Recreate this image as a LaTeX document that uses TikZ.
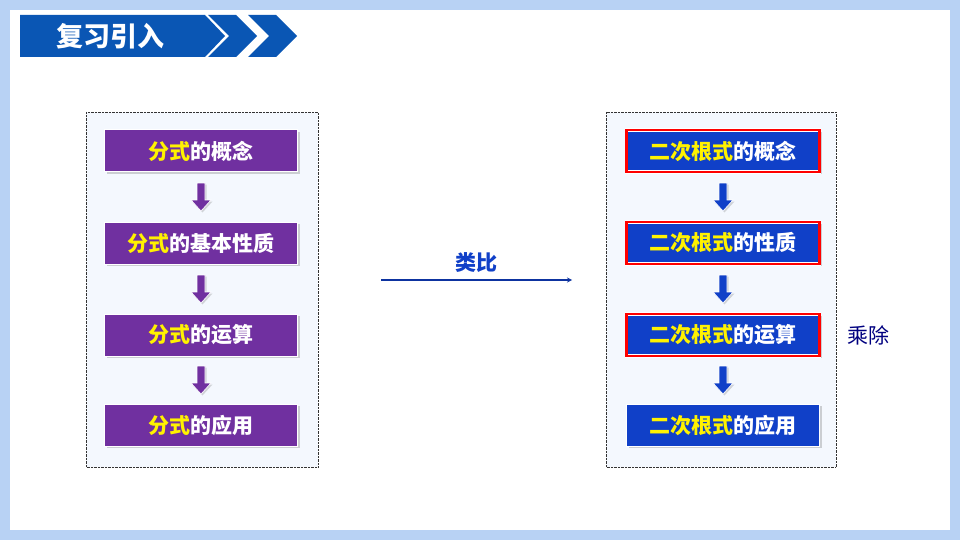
\documentclass[tikz,border=0pt]{standalone}
\usepackage{fontspec}
\newfontfamily\cjk{Noto Sans CJK SC}
\usetikzlibrary{shadows,calc}
\definecolor{pur}{HTML}{7030A0}
\definecolor{blu}{HTML}{1040C8}
\definecolor{hdr}{HTML}{0A56B4}
\definecolor{frm}{HTML}{B8D2F4}
\definecolor{pnl}{HTML}{F4F8FE}
\begin{document}
\begin{tikzpicture}[x=1pt,y=-1pt,
 box/.style={minimum width=193pt,minimum height=42pt,inner sep=0pt,draw=white,line width=1pt,font=\cjk\bfseries\fontsize{21}{21}\selectfont,text=white,drop shadow={opacity=0.35,shadow xshift=2pt,shadow yshift=-2pt}},
 pbox/.style={box,fill=pur},
 bbox/.style={box,fill=blu},
 rbox/.style={bbox,double=red,double distance=2.5pt,line width=0.6pt},
 pnlst/.style={draw=black!80,densely dotted,fill=pnl},
 pic darr/.style={draw=white,line width=0.6pt,drop shadow={opacity=0.3,shadow xshift=1.5pt,shadow yshift=-1.5pt}}]
\useasboundingbox (0,0) rectangle (960,540);
\fill[frm] (0,0) rectangle (960,540);
\fill[white] (10,10) rectangle (950,530);
% header
\fill[hdr] (20,15) -- (205,15) -- (225,36) -- (205,57) -- (20,57) -- cycle;
\fill[hdr] (208,15) -- (236,15) -- (257,36) -- (236,57) -- (208,57) -- (229,36) -- cycle;
\fill[hdr] (248,15) -- (276,15) -- (297,36) -- (276,57) -- (248,57) -- (269,36) -- cycle;
\node[font=\cjk\bfseries\fontsize{27}{27}\selectfont,text=white] (title) at (110,36) {复习引入};
% panels
\draw[pnlst] (86,112) rectangle (318,467);
\draw[pnlst] (606,112) rectangle (836,467);
\node[pbox] (l1) at (201,151) {\textcolor{yellow}{分式}的概念};
\node[pbox] (l2) at (201,243) {\textcolor{yellow}{分式}的基本性质};
\node[pbox] (l3) at (201,335) {\textcolor{yellow}{分式}的运算};
\node[pbox] (l4) at (201,425) {\textcolor{yellow}{分式}的应用};
\node[rbox] (r1) at (723,151) {\textcolor{yellow}{二次根式}的概念};
\node[rbox] (r2) at (723,243) {\textcolor{yellow}{二次根式}的性质};
\node[rbox] (r3) at (723,335) {\textcolor{yellow}{二次根式}的运算};
\node[bbox] (r4) at (723,425) {\textcolor{yellow}{二次根式}的应用};
\foreach \a/\b/\c in {l1/l2/pur,l2/l3/pur,l3/l4/pur,r1/r2/blu,r2/r3/blu,r3/r4/blu}{
  \coordinate (m) at ($(\a)!0.5!(\b)$);
  \draw[pic darr,fill=\c] ($(m)+(-4,-14)$) -- ($(m)+(4,-14)$) -- ($(m)+(4,3)$) -- ($(m)+(10,3)$) -- ($(m)+(0,14)$) -- ($(m)+(-10,3)$) -- ($(m)+(-4,3)$) -- cycle;
}
\coordinate (as) at (381,280);
\coordinate (ae) at (572,280);
\draw[-stealth,blu!80!black,line width=1.2pt] (as) -- node[above=4pt,font=\cjk\bfseries\fontsize{21}{21}\selectfont,text=blu] (lb) {类比} (ae);
\node[font=\fontsize{21}{21}\selectfont,text=blue!50!black] (cc) at (868,335) {\cjk 乘除};
\end{tikzpicture}
\end{document}
